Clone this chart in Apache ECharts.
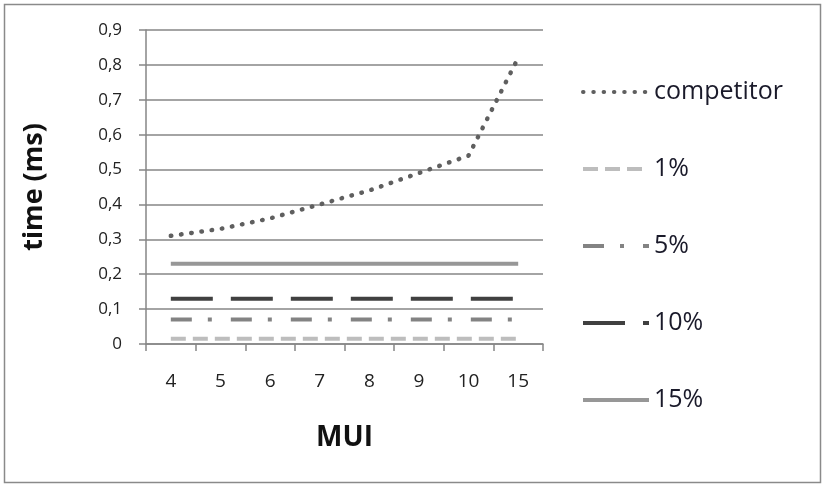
<!DOCTYPE html>
<html>
<head>
<meta charset="utf-8">
<script src="https://cdn.jsdelivr.net/npm/echarts@6/dist/echarts.min.js"></script>
<style>html,body{margin:0;padding:0;background:#fff;}#c{width:824px;height:487px;}</style>
</head>
<body>
<div id="c"></div>
<script>
const categories = ['4', '5', '6', '7', '8', '9', '10', '15'];
const competitor = [0.31, 0.33, 0.36, 0.40, 0.44, 0.49, 0.54, 0.82];
const p1 = [0.015, 0.015, 0.015, 0.015, 0.015, 0.015, 0.015, 0.015];
const p5 = [0.07, 0.07, 0.07, 0.07, 0.07, 0.07, 0.07, 0.07];
const p10 = [0.13, 0.13, 0.13, 0.13, 0.13, 0.13, 0.13, 0.13];
const p15 = [0.23, 0.23, 0.23, 0.23, 0.23, 0.23, 0.23, 0.23];
const seriesNames = ['competitor', '1%', '5%', '10%', '15%'];

const FONT = 'Open Sans';
const chart = echarts.init(document.getElementById('c'), null, {renderer: 'canvas'});

function mk(name, data, color, dash, cap, width) {
  return {
    name: name, type: 'line', data: data, symbol: 'none', silent: true,
    lineStyle: {color: color, width: width || 4, type: dash, cap: cap || 'butt'},
    itemStyle: {color: color}
  };
}

chart.setOption({
  animation: false,
  backgroundColor: '#fff',
  graphic: [{
    type: 'rect', shape: {x: 4.5, y: 4.5, width: 816, height: 478},
    style: {fill: 'none', stroke: '#8a8a8a', lineWidth: 1.5}
  }],
  grid: {left: 146, right: 281, top: 30, bottom: 143},
  legend: {
    orient: 'vertical', left: 576, top: 72,
    itemWidth: 66, itemHeight: 14, itemGap: 47,
    data: seriesNames,
    itemStyle: {opacity: 0},
    lineStyle: {width: 4},
    textStyle: {fontFamily: FONT, fontSize: 25, color: '#1a1a2a', lineHeight: 30}
  },
  xAxis: {
    type: 'category', data: categories, boundaryGap: true,
    name: 'MUI', nameLocation: 'middle', nameGap: 80,
    nameTextStyle: {fontFamily: FONT, fontSize: 28, fontWeight: 'bold', color: '#111'},
    axisLine: {lineStyle: {color: '#868686', width: 1.5}},
    axisTick: {show: true, length: 7, alignWithLabel: false, lineStyle: {color: '#868686', width: 1.5}},
    axisLabel: {fontFamily: FONT, fontSize: 19, color: '#222', margin: 28}
  },
  yAxis: {
    type: 'value', min: 0, max: 0.9, interval: 0.1,
    name: 'time (ms)', nameLocation: 'middle', nameGap: 98, nameRotate: 90,
    nameTextStyle: {fontFamily: FONT, fontSize: 27, fontWeight: 'bold', color: '#111'},
    axisLine: {show: true, lineStyle: {color: '#868686', width: 1.5}},
    axisTick: {show: true, length: 7, lineStyle: {color: '#868686', width: 1.5}},
    splitLine: {lineStyle: {color: '#868686', width: 1.5}},
    axisLabel: {fontFamily: FONT, fontSize: 17, color: '#222', margin: 24,
      formatter: v => v === 0 ? '0' : v.toFixed(1).replace('.', ',')}
  },
  series: [
    mk('competitor', competitor, '#5f5f5f', [0.5, 9.8], 'round', 4.5),
    mk('1%', p1, '#bdbdbd', [15, 7]),
    mk('5%', p5, '#838383', [21, 16, 4, 19]),
    mk('10%', p10, '#404040', [42, 18]),
    mk('15%', p15, '#979797', 'solid')
  ]
});
</script>
</body>
</html>
